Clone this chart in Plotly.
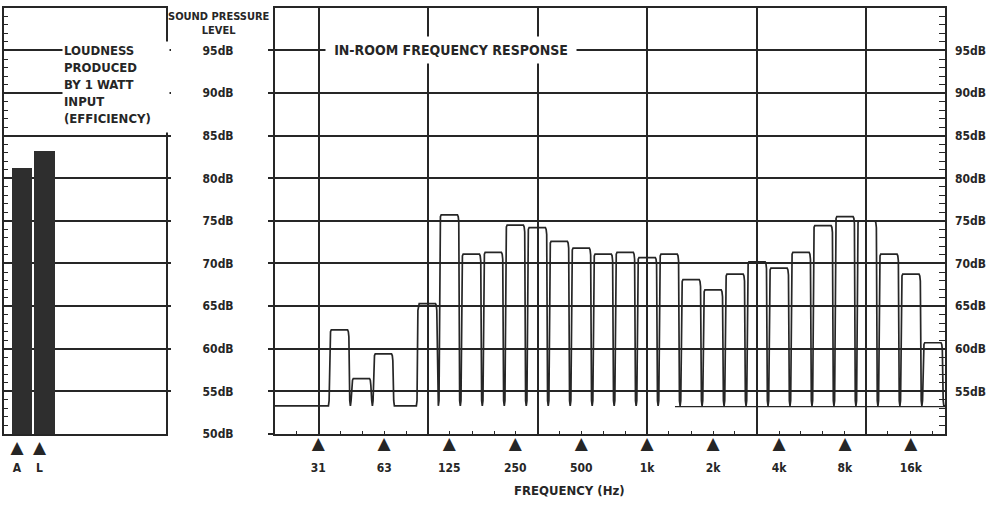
import math
import plotly.graph_objects as go

# ---------------- data ----------------
efficiency_labels = ["A", "L"]
efficiency_db = [81.2, 83.2]

band_hz = [40, 50, 63, 80, 100, 125, 160, 200, 250, 315, 400, 500, 630, 800,
           1000, 1250, 1600, 2000, 2500, 3150, 4000, 5000, 6300, 8000,
           10000, 12500, 16000, 20000]
band_db = [62.2, 56.5, 59.4, None, 65.3, 75.7, 71.1, 71.3, 74.5, 74.2, 72.6, 71.8, 71.1, 71.3,
           70.7, 71.1, 68.1, 66.9, 68.75, 70.2, 69.45, 71.3, 74.45, 75.5,
           75.0, 71.1, 68.75, 60.7]
floor_db = 53.3
ref_line_start_hz = 1340
ref_line_db = 53.2

octave_hz = [31.5, 63, 125, 250, 500, 1000, 2000, 4000, 8000, 16000]
octave_labels = ["31", "63", "125", "250", "500", "1k", "2k", "4k", "8k", "16k"]
grid_hz = [31.62, 100, 316.2, 1000, 3162, 10000]
third_octave_hz = [25, 31.5, 40, 50, 63, 80, 100, 125, 160, 200, 250, 315, 400, 500,
                   630, 800, 1000, 1250, 1600, 2000, 2500, 3150, 4000, 5000, 6300,
                   8000, 10000, 12500, 16000, 20000]
db_major = [50, 55, 60, 65, 70, 75, 80, 85, 90, 95]
db_labels = [f"{v}dB" for v in db_major]
db_minor = list(range(50, 101))
freq_range_hz = [20, 22900]
db_range = [50, 100]

# ---------------- styling ----------------
INK = "#262626"
FONT = "Liberation Sans Narrow, DejaVu Sans Condensed, Arial Narrow, sans-serif"
TRI_FONT = dict(family="DejaVu Sans", size=17, color=INK)
LABEL_FONT = dict(family=FONT, size=12, color=INK, weight="bold")


def exact_band(f):
    n = round(3 * math.log2(f / 1000.0))
    return 1000.0 * 2 ** (n / 3.0)


# pulse outline for one third-octave band (offsets in band widths)
pulse_off = [-0.5, -0.47, -0.43, -0.405, -0.37, 0.37, 0.405, 0.43, 0.47, 0.5]


def pulse_levels(level):
    return [floor_db, floor_db + 0.6, level - 0.8, level - 0.2, level,
            level, level - 0.2, level - 0.8, floor_db + 0.6, floor_db]


curve_x = [freq_range_hz[0]]
curve_y = [floor_db]
for f, lv in zip(band_hz, band_db):
    if lv is None:
        continue
    fc = exact_band(f)
    for o, yv in zip(pulse_off, pulse_levels(lv)):
        curve_x.append(fc * 2 ** (o / 3.0))
        curve_y.append(yv)
curve_x.append(freq_range_hz[1])
curve_y.append(floor_db)

log_range = [math.log10(freq_range_hz[0]), math.log10(freq_range_hz[1])]

fig = go.Figure()

# left panel: efficiency bars
fig.add_trace(go.Bar(x=[0, 1], y=efficiency_db, width=0.89, marker_color="#2e2e2e",
                     marker_line_width=0, xaxis="x", yaxis="y", showlegend=False,
                     hoverinfo="skip"))
# invisible helper trace so the overlay axes are drawn
fig.add_trace(go.Scatter(x=[0], y=[60], xaxis="x3", yaxis="y3", mode="markers",
                         marker_opacity=0, showlegend=False, hoverinfo="skip"))

# right panel: response curve
fig.add_trace(go.Scatter(x=curve_x, y=curve_y, mode="lines", line=dict(color=INK, width=1.7),
                         xaxis="x2", yaxis="y2", showlegend=False, hoverinfo="skip"))
fig.add_trace(go.Scatter(x=[ref_line_start_hz, freq_range_hz[1]], y=[ref_line_db, ref_line_db],
                         mode="lines", line=dict(color=INK, width=1.4),
                         xaxis="x2", yaxis="y2", showlegend=False, hoverinfo="skip"))
fig.add_trace(go.Scatter(x=[1000], y=[60], xaxis="x4", yaxis="y5", mode="markers",
                         marker_opacity=0, showlegend=False, hoverinfo="skip"))
fig.add_trace(go.Scatter(x=[1000], y=[60], xaxis="x5", yaxis="y2", mode="markers",
                         marker_opacity=0, showlegend=False, hoverinfo="skip"))

ydom = [1 - 440 / 506, 1 - 8 / 506]
left_dom = [0.004, 0.166]
right_dom = [0.275, 0.945]

tri_text = ["▲" if f in octave_hz else "" for f in third_octave_hz]

fig.update_layout(
    width=1000, height=506, autosize=False,
    margin=dict(l=0, r=0, t=0, b=0),
    paper_bgcolor="white", plot_bgcolor="white",
    bargap=0,
    # ---- left panel ----
    xaxis=dict(domain=left_dom, range=[-0.8, 6.4], anchor="y",
               tickmode="array", tickvals=[0, 1], ticktext=["▲", "▲"],
               tickfont=TRI_FONT, ticks="", ticklabelshift=-5, ticklabelstandoff=-3,
               showgrid=False, zeroline=False, showline=True, mirror=True,
               linecolor=INK, linewidth=2, fixedrange=True),
    xaxis3=dict(overlaying="x", range=[-0.8, 6.4], anchor="y", side="bottom",
                tickmode="array", tickvals=[0, 1], ticktext=efficiency_labels,
                tickfont=LABEL_FONT, ticks="", ticklabelshift=-5, ticklabelstandoff=25,
                showgrid=False, zeroline=False, showline=False),
    yaxis=dict(domain=ydom, range=db_range, anchor="x",
               tickmode="array", tickvals=db_minor, ticks="inside", ticklen=4,
               tickwidth=1.2, tickcolor=INK, showticklabels=False,
               showgrid=False, zeroline=False, showline=True, mirror=True,
               linecolor=INK, linewidth=2),
    yaxis3=dict(overlaying="y", range=db_range, anchor="x", side="right",
                tickmode="array", tickvals=db_major[1:], ticks="outside", ticklen=4,
                tickwidth=1.6, tickcolor=INK, showticklabels=False,
                showgrid=True, gridcolor=INK, gridwidth=1.6, zeroline=False, showline=False),
    # ---- right panel ----
    xaxis2=dict(domain=right_dom, type="log", range=log_range, anchor="y2",
                tickmode="array", tickvals=grid_hz, ticks="", showticklabels=False,
                showgrid=True, gridcolor=INK, gridwidth=1.6, zeroline=False,
                showline=True, mirror=True, linecolor=INK, linewidth=2),
    xaxis4=dict(overlaying="x2", type="log", range=log_range, anchor="y2", side="bottom",
                tickmode="array", tickvals=third_octave_hz, ticktext=tri_text,
                tickfont=TRI_FONT,
                ticks="inside", ticklen=3, tickwidth=1.2, tickcolor=INK,
                ticklabelstandoff=-3,
                showgrid=False, zeroline=False, showline=False),
    xaxis5=dict(overlaying="x2", type="log", range=log_range, anchor="y2", side="bottom",
                tickmode="array", tickvals=octave_hz, ticktext=octave_labels,
                tickfont=LABEL_FONT, ticks="", ticklabelstandoff=25,
                showgrid=False, zeroline=False, showline=False),
    yaxis2=dict(domain=ydom, range=db_range, anchor="x2", side="left",
                tickmode="array", tickvals=db_major, ticktext=db_labels,
                tickfont=dict(family=FONT, size=12, color=INK, weight="bold"),
                ticks="outside", ticklen=5, tickwidth=1.6, tickcolor=INK,
                ticklabelstandoff=32,
                showgrid=True, gridcolor=INK, gridwidth=1.6, zeroline=False,
                showline=True, mirror=True, linecolor=INK, linewidth=2),
    yaxis5=dict(overlaying="y2", range=db_range, anchor="x2", side="right",
                tickmode="array", tickvals=db_minor,
                ticktext=[f"{v}dB" if (v % 5 == 0 and 55 <= v <= 95) else "" for v in db_minor],
                tickfont=dict(family=FONT, size=12, color=INK, weight="bold"),
                ticks="inside", ticklen=6, tickwidth=1.2, tickcolor=INK,
                ticklabelstandoff=9,
                showgrid=False, zeroline=False, showline=False),
)

fig.add_annotation(text="SOUND PRESSURE<br>LEVEL", xref="paper", yref="paper",
                   x=0.219, y=1 - 23.5 / 506, xanchor="center", yanchor="middle",
                   showarrow=False, font=dict(family=FONT, size=11, color=INK, weight="bold"))
fig.add_annotation(text="LOUDNESS<br>PRODUCED<br>BY 1 WATT<br>INPUT<br>(EFFICIENCY)",
                   xref="paper", yref="paper", x=0.062, y=1 - 42 / 506,
                   xanchor="left", yanchor="top", align="left", valign="top",
                   width=104, height=88, bgcolor="white", borderpad=1, showarrow=False,
                   font=dict(family=FONT, size=13, color=INK, weight="bold"))
fig.add_annotation(text="IN-ROOM FREQUENCY RESPONSE", xref="paper", yref="paper",
                   x=0.325, y=1 - 51 / 506, xanchor="left", yanchor="middle",
                   width=250, height=26, bgcolor="white", borderpad=0, showarrow=False,
                   font=dict(family=FONT, size=14, color=INK, weight="bold"))
fig.add_annotation(text="FREQUENCY (Hz)", xref="paper", yref="paper",
                   x=0.569, y=1 - 497 / 506, xanchor="center", yanchor="middle",
                   showarrow=False, font=dict(family=FONT, size=13, color=INK, weight="bold"))

fig.write_html(
    "out.html", config={"displayModeBar": False, "responsive": False},
    post_script=("document.documentElement.style.margin='0';"
                 "document.body.style.margin='0';"
                 "document.documentElement.style.overflow='hidden';"
                 "document.body.style.overflow='hidden';"))
